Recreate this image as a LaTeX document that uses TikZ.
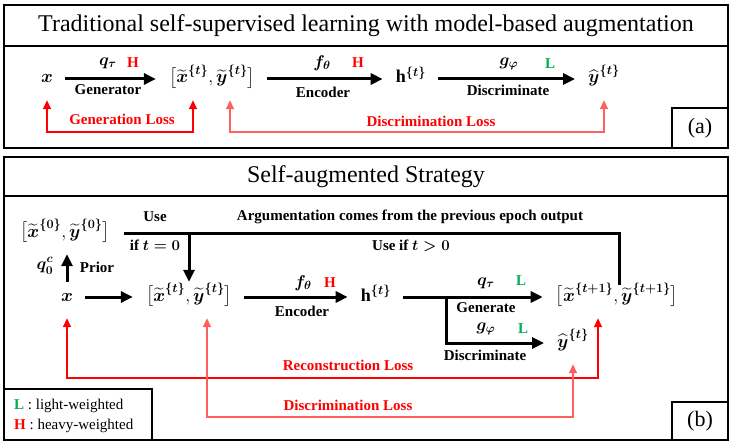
\RequirePackage{fix-cm}
\documentclass[tikz,border=0pt]{standalone}
\usepackage{amsmath}
\usepackage{fontspec}
\setmainfont{Liberation Serif}
\usetikzlibrary{positioning,arrows.meta}

\definecolor{hvred}{RGB}{255,0,0}
\definecolor{ltgreen}{RGB}{0,176,80}
\definecolor{lossred}{RGB}{255,95,95}

\tikzset{
  lbl/.style={font=\bfseries\fontsize{15}{15}\selectfont, inner sep=1pt},
  lblm/.style={font=\bfseries\fontsize{17}{17}\selectfont, inner sep=1pt},
  leg/.style={font=\fontsize{15}{15}\selectfont, inner sep=1pt, anchor=west},
  mth/.style={font=\fontsize{18}{18}\selectfont, text height=14pt, text depth=6pt, inner sep=2pt},
  ttl/.style={font=\fontsize{24}{24}\selectfont},
  panel/.style={line width=1.3pt},
  flow/.style={line width=3pt, shorten <=10pt, shorten >=11pt, -{Triangle[length=12pt,width=11pt]}},
  loss/.style={line width=1.5pt, shorten <=9pt, shorten >=9pt, {Triangle[length=9pt,width=8pt]}-{Triangle[length=9pt,width=8pt]}},
}
\newcommand{\Hwt}{\textcolor{hvred}{\textbf{H}}}
\newcommand{\Lwt}{\textcolor{ltgreen}{\textbf{L}}}
\newcommand{\supt}[1]{^{\boldsymbol{\{#1\}}}}
\newcommand{\pairxy}[1]{\bigl[\widetilde{\boldsymbol{x}}\supt{#1},\widetilde{\boldsymbol{y}}\supt{#1}\bigr]}

\begin{document}
\begin{tikzpicture}[x=1pt,y=-1pt]
  \useasboundingbox (0,0) rectangle (732,444);

  % ---------------- panel (a)
  \draw[panel] (4,5) rectangle (728,148);
  \draw[panel] (4,46) -- (728,46);
  \node[ttl] (ttla) at (366,26) {Traditional self-supervised learning with model-based augmentation};
  \draw[panel] (672,108) rectangle (728,148);
  \node[ttl, font=\fontsize{22}{22}\selectfont] (taga) at (700,128) {(a)};

  % main row
  \node[mth] (xa) at (47,79) {$\boldsymbol{x}$};
  \node[mth] (xya) at (212,79) {$\pairxy{t}$};
  \node[mth] (ha) at (411,79) {$\mathbf{h}\supt{t}$};
  \node[mth] (yha) at (604,79) {$\widehat{\boldsymbol{y}}\supt{t}$};

  \draw[flow] (xa) -- (xya);
  \draw[flow] (xya) -- (ha);
  \draw[flow] (ha) -- (yha);

  % arrow labels
  \node[lblm] (qa) at (108,63) {$\boldsymbol{q_\tau}$};
  \node[lbl] (qaw) at (133,63) {\Hwt};
  \node[lbl] (gena) at (108,90) {Generator};
  \node[lblm] (fa) at (322,63) {$\boldsymbol{f_\theta}$};
  \node[lbl] (faw) at (358,63) {\Hwt};
  \node[lbl] (enca) at (323,92) {Encoder};
  \node[lblm] (ga) at (509,64) {$\boldsymbol{g_\varphi}$};
  \node[lbl] (gaw) at (550,64) {\Lwt};
  \node[lbl] (disa) at (508,90) {Discriminate};

  % losses
  \coordinate (baseA) at (0,132);
  \draw[loss, hvred] ([xshift=-19pt]xya.south) |- (xa.south |- baseA) -- (xa.south);
  \draw[loss, lossred] ([xshift=18pt]xya.south) |- (yha.south |- baseA) -- (yha.south);
  \node[lbl, text=hvred] (genl) at (122,119) {Generation Loss};
  \node[lbl, text=hvred] (disla) at (431,121) {Discrimination Loss};

  % ---------------- panel (b)
  \draw[panel] (4,157) rectangle (728,440);
  \draw[panel] (4,196) -- (728,196);
  \node[ttl] (ttlb) at (366,177) {Self-augmented Strategy};
  \draw[panel] (672,402) rectangle (728,440);
  \node[ttl, font=\fontsize{22}{22}\selectfont] (tagb) at (700,421) {(b)};

  % legend
  \draw[panel] (4,389) rectangle (152,440);
  \node[leg] (legl) at (13,406) {\Lwt\ : light-weighted};
  \node[leg] (legh) at (13,426) {\Hwt\ : heavy-weighted};

  % nodes
  \node[mth] (x0) at (65,233) {$\pairxy{0}$};
  \node[mth] (xb) at (67,297) {$\boldsymbol{x}$};
  \node[mth] (xt) at (189,297) {$\pairxy{t}$};
  \node[mth] (hb) at (376,297) {$\mathbf{h}\supt{t}$};
  \node[mth] (xt1) at (617,297) {$\pairxy{t+1}$};
  \node[mth] (yb) at (573,343) {$\widehat{\boldsymbol{y}}\supt{t}$};
  \coordinate (br) at (446,297);

  % epoch loop
  \draw[line width=3pt, shorten <=12pt] (x0.east) -| ([xshift=2pt]xt1.north);
  \draw[flow, shorten <=0pt, shorten >=3pt] (xt.north |- x0.east) -- (xt.north);
  \draw[flow, shorten <=3pt, shorten >=9pt] (xb.north) -- (xb.north |- x0.south);

  \draw[flow] (xb) -- (xt);
  \draw[flow] (xt) -- (hb);
  \draw[flow] (hb) -- (xt1);
  \draw[flow, shorten <=0pt] (br) |- (yb);

  % labels
  \node[lbl] (use0) at (155,217) {Use};
  \node[lbl] (if0) at (155,245) {if $\boldsymbol{t=0}$};
  \node[lbl] (argm) at (410,217) {Argumentation comes from the previous epoch output};
  \node[lbl] (usegt) at (411,246) {Use if $\boldsymbol{t>0}$};
  \node[lblm] (q0) at (45,266) {$\boldsymbol{q_0^c}$};
  \node[lbl] (prior) at (97,267) {Prior};
  \node[lblm] (fb) at (303,283) {$\boldsymbol{f_\theta}$};
  \node[lbl] (fbw) at (330,283) {\Hwt};
  \node[lbl] (encb) at (302,311) {Encoder};
  \node[lblm] (qb) at (486,283) {$\boldsymbol{q_\tau}$};
  \node[lbl] (qbw) at (521,281) {\Lwt};
  \node[lbl] (genb) at (486,308) {Generate};
  \node[lblm] (gb) at (486,329) {$\boldsymbol{g_\varphi}$};
  \node[lbl] (gbw) at (523,329) {\Lwt};
  \node[lbl] (disb) at (485,355) {Discriminate};

  % losses
  \coordinate (baseR) at (0,378);
  \coordinate (baseD) at (0,417);
  \draw[loss, hvred] ([xshift=-19pt]xt1.south) |- (xb.south |- baseR) -- (xb.south);
  \draw[loss, lossred] ([xshift=18pt]xt.south) |- (yb.south |- baseD) -- (yb.south);
  \node[lbl, text=hvred] (recl) at (348,365) {Reconstruction Loss};
  \node[lbl, text=hvred] (dislb) at (348,405) {Discrimination Loss};
\end{tikzpicture}
\end{document}
